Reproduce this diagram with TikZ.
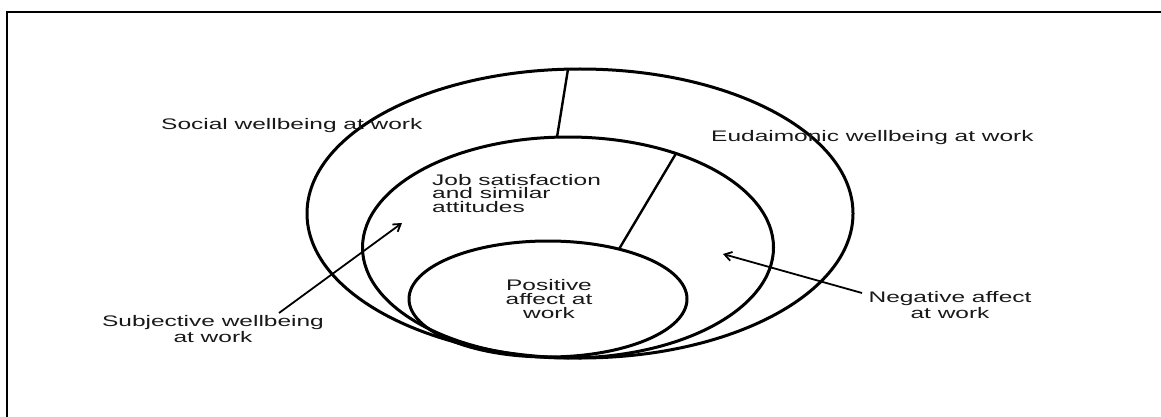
\documentclass[tikz,border=0pt]{standalone}
\usepackage{fontspec}
\newfontfamily\labfont[FakeStretch=1.6]{Liberation Sans}
\usetikzlibrary{arrows.meta}
\tikzset{
  lab/.style={font=\labfont\fontsize{15.3pt}{13.8pt}\selectfont, inner sep=0pt, text=black!90},
  ring/.style={draw=black, line width=3pt},
  divider/.style={draw=black, line width=2.4pt},
  arr/.style={draw=black, line width=1.8pt, -{Straight Barb[length=7pt,width=9pt,line width=1.8pt]}},
}
\begin{document}
\begin{tikzpicture}[x=1pt,y=-1pt]
\useasboundingbox (0,0) rectangle (1161,417);
% frame (top and left edges only)
\draw[line width=2.6pt] (7,417) -- (7,12) -- (1161,12);
% ellipses
\draw[ring] (580,213.5) ellipse [x radius=273pt, y radius=144.5pt];
\draw[ring] (568,247.5) ellipse [x radius=205.5pt, y radius=110.5pt];
\draw[ring] (548,299) ellipse [x radius=139pt, y radius=58pt];
% dividers
\coordinate (d1a) at (568,69.2);
\coordinate (d1b) at (557,137.2);
\coordinate (d2a) at (676,153.5);
\coordinate (d2b) at (619,249.1);
\draw[divider] (d1a) -- (d1b);
\draw[divider] (d2a) -- (d2b);
% labels (multi-line nodes: base = last line)
\node[lab, anchor=base west] (social) at (161,129) {Social wellbeing at work};
\node[lab, anchor=base west] (eud) at (711,141) {Eudaimonic wellbeing at work};
\node[lab, anchor=base west, align=left] (job) at (432,212.6) {Job satisfaction\\and similar\\attitudes};
\node[lab, anchor=base, align=center] (pos) at (549,318) {Positive\\affect at\\work};
\node[lab, anchor=base, align=center] (subj) at (213,342) {Subjective wellbeing\\at work};
\node[lab, anchor=base, align=center] (neg) at (950,318) {Negative affect\\at work};
% arrows
\coordinate (a1s) at (279,313);
\coordinate (a1e) at (402,223);
\coordinate (a2s) at (862,293);
\coordinate (a2e) at (723,254);
\draw[arr] (a1s) -- (a1e);
\draw[arr] (a2s) -- (a2e);
\end{tikzpicture}
\end{document}
